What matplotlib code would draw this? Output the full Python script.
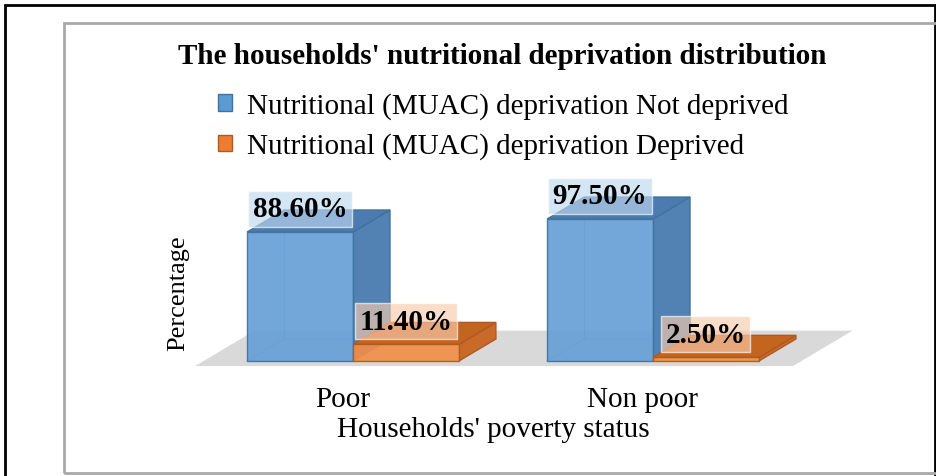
import numpy as np
import matplotlib
matplotlib.use("Agg")
import matplotlib.pyplot as plt
from matplotlib.patches import Polygon, Rectangle, Patch

groups = ["Poor", "Non poor"]
not_deprived = [88.6, 97.5]
deprived = [11.4, 2.5]
series_names = ["Nutritional (MUAC) deprivation Not deprived",
                "Nutritional (MUAC) deprivation Deprived"]
value_labels = [["88.60%", "97.50%"], ["11.40%", "2.50%"]]

plt.rcParams["font.family"] = ["Liberation Serif", "DejaVu Serif"]

W, H = 936, 477
fig = plt.figure(figsize=(W / 100, H / 100), dpi=100)
ax = fig.add_axes([0, 0, 1, 1])
# 1 x unit = 300 px, 1 % = 1.456 px, baseline at y=362 px
ax.set_xlim(-353 / 300, (W - 353) / 300)
ax.set_ylim(-(H - 362) / 1.456, 362 / 1.456)
ax.axis("off")

def fx(px):
    return px / W

def fy(py):
    return 1 - py / H

# frames
fig.patches.append(Rectangle((fx(5), -0.1), fx(930), 1.1 - 6 / H, fill=False,
                             ec="black", lw=2, transform=fig.transFigure))
fig.patches.append(Rectangle((fx(64), fy(474)), 1, fy(24) - fy(474), fill=False,
                             ec="#a8a8a8", lw=2, transform=fig.transFigure))

DX, DY = 37 / 300, 22 / 1.456   # depth offset
w = 0.353
x = np.arange(len(groups))

# floor
fl, fr = x[0] - w - 0.145, x[-1] + w + 0.142
z0, z1 = -0.23, 1.38
ax.add_patch(Polygon([(fl + z0 * DX, z0 * DY), (fr + z0 * DX, z0 * DY),
                      (fr + z1 * DX, z1 * DY), (fl + z1 * DX, z1 * DY)],
                     closed=True, fc="#d9d9d9", ec="none", zorder=1))

styles = [
    dict(front="#67a0d7", side="#5281b3", top="#4c7bb0", edge="#41719c",
         leg="#5b9bd5", box="#bdd7ee"),
    dict(front="#f08e49", side="#c9692a", top="#c4651f", edge="#ae5a21",
         leg="#ed7d31", box="#f8cbad"),
]

def draw_3d(x0, v, st, zb):
    x1 = x0 + w
    # hidden edges seen through the front face
    ax.plot([x0, x0 + DX, x1 + DX], [0, DY, DY], color=st["edge"], lw=0.8,
            alpha=0.5, zorder=zb)
    ax.plot([x0 + DX, x0 + DX], [DY, v + DY], color=st["edge"], lw=0.8,
            alpha=0.5, zorder=zb)
    ax.add_patch(Polygon([(x1, 0), (x1 + DX, DY), (x1 + DX, v + DY), (x1, v)],
                         closed=True, fc=st["side"], ec=st["edge"], lw=1,
                         zorder=zb + 1))
    ax.add_patch(Polygon([(x0, v), (x1, v), (x1 + DX, v + DY), (x0 + DX, v + DY)],
                         closed=True, fc=st["top"], ec=st["edge"], lw=1,
                         zorder=zb + 1))

series = [not_deprived, deprived]
for k, vals in enumerate(series):
    st = styles[k]
    lefts = x - w + k * w
    for i, v in enumerate(vals):
        draw_3d(lefts[i], v, st, 2 + 4 * k)
    ax.bar(lefts, vals, w, align="edge", color=st["front"], alpha=0.92,
           edgecolor=st["edge"], lw=1, zorder=4 + 4 * k)
    for i, v in enumerate(vals):
        ax.text(lefts[i] + w / 2, v + 16, value_labels[k][i], ha="center",
                va="center", fontsize=21, fontweight="bold", zorder=20,
                bbox=dict(boxstyle="square,pad=0.15", fc=st["box"], ec="white",
                          alpha=0.65, lw=1))

for i, g in enumerate(groups):
    ax.text(x[i] - 0.035, -26, g, ha="center", va="center", fontsize=21)
ax.text(0.467, -47, "Households' poverty status", ha="center", va="center",
        fontsize=21)
ax.text(-0.583, 47, "Percentage", ha="center", va="center", rotation=90,
        fontsize=19)

fig.text(fx(502), fy(57), "The households' nutritional deprivation distribution",
         ha="center", va="center", fontsize=21, fontweight="bold")

handles = [Patch(fc=s["leg"], ec=s["edge"]) for s in styles]
fig.legend(handles, series_names, loc="center", bbox_to_anchor=(fx(503), fy(127)),
           frameon=False, fontsize=21, handlelength=0.5, handleheight=0.5,
           handletextpad=0.5, labelspacing=0.45, borderpad=0)

fig.savefig("out.png", dpi=100)
